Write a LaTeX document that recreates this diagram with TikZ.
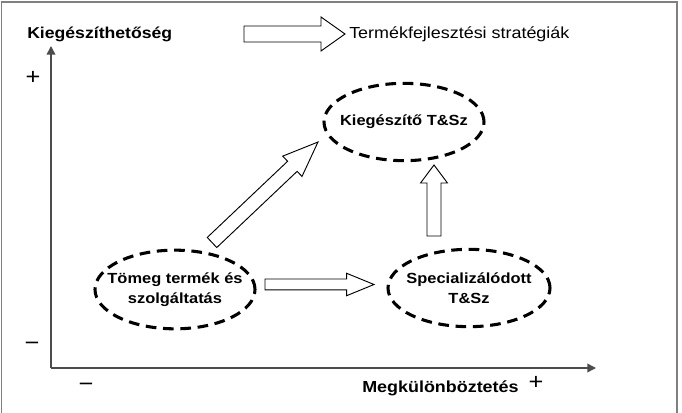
\documentclass[tikz,border=0pt]{standalone}
\usepackage{fontspec}
\setmainfont{Liberation Sans}[FakeStretch=1.12]
\usetikzlibrary{shapes.geometric,arrows.meta,calc}

\tikzset{
  strat/.style={ellipse, draw, line width=2.3pt, dash pattern=on 8pt off 5pt,
    minimum width=120pt, minimum height=58pt, inner sep=0pt},
  strattext/.style={font=\bfseries\fontsize{11}{15}\selectfont, align=center, inner sep=0pt},
  axislabel/.style={font=\bfseries\fontsize{11.8}{14}\selectfont, inner sep=0pt},
  sign/.style={font=\fontsize{17}{17}\selectfont, inner sep=0pt},
  axis/.style={draw=black!70, line width=1.1pt, -{Triangle[length=6.5pt,width=6.5pt]}},
  fatarrow/.style={draw, fill=white, line width=0.7pt, line join=miter}
}
% tail, tip, half shaft, half head, head length
\newcommand\fatarrow[5]{%
  \coordinate (hb) at ($(#2)!#5!(#1)$);
  \draw[fatarrow] ($(#1)!#3!90:(#2)$) -- ($(hb)!#3!90:(#2)$) -- ($(hb)!#4!90:(#2)$)
    -- (#2) -- ($(hb)!#4!-90:(#2)$) -- ($(hb)!#3!-90:(#2)$) -- ($(#1)!#3!-90:(#2)$) -- cycle;
}

\begin{document}
\begin{tikzpicture}[x=0.75pt,y=-0.75pt]
  \useasboundingbox (0,0) rectangle (682,413);
  \draw[black!50, line width=1.2pt] (1.5,413) -- (1.5,2) -- (677,2) -- (677,413);

  \coordinate (origin) at (51,368);
  \coordinate (ytop) at (51,46);
  \coordinate (xend) at (596,368);
  \draw[axis] (origin) -- (ytop);
  \draw[axis] (origin) -- (xend);

  \node[axislabel, anchor=base west] (ylab) at (27,39) {Kiegészíthetőség};
  \node[anchor=base west, inner sep=0pt, font=\fontsize{12}{14}\selectfont] (legtext) at (349,38.5) {Termékfejlesztési stratégiák};
  \node[axislabel, font=\bfseries\fontsize{12}{14}\selectfont, anchor=base west] (xlab) at (362,392.5) {Megkülönböztetés};
  \node[sign] (yplus) at (33,78) {+};
  \node[sign] (yminus) at (32,346) {−};
  \node[sign] (xminus) at (86,387) {−};
  \node[sign] (xplus) at (536,383) {+};

  \node[strat] (kieg) at (404,122) {};
  \node[strattext] (kiegtext) at (kieg) {Kiegészítő T\&Sz};
  \node[strat, minimum height=59pt] (tomeg) at (175,289.5) {};
  \node[strattext] (tomegtext) at (tomeg) {Tömeg termék és\\szolgáltatás};
  \node[strat, minimum width=121.5pt] (spec) at (469,288) {};
  \node[strattext] (spectext) at (spec) {Specializálódott\\T\&Sz};

  \coordinate (legA) at (244,34);
  \coordinate (legB) at (345,34);
  \coordinate (diagA) at (212,242.5);
  \coordinate (diagB) at (318,142);
  \coordinate (horA) at (265,284.5);
  \coordinate (horB) at (374,284.5);
  \coordinate (verA) at (434,236);
  \coordinate (verB) at (434,165);
  \fatarrow{legA}{legB}{6pt}{12.75pt}{18pt}
  \fatarrow{diagA}{diagB}{5.2pt}{10.5pt}{26.5pt}
  \fatarrow{horA}{horB}{4.1pt}{8.4pt}{20.5pt}
  \fatarrow{verA}{verB}{5.25pt}{10.1pt}{13.5pt}
\end{tikzpicture}
\end{document}
